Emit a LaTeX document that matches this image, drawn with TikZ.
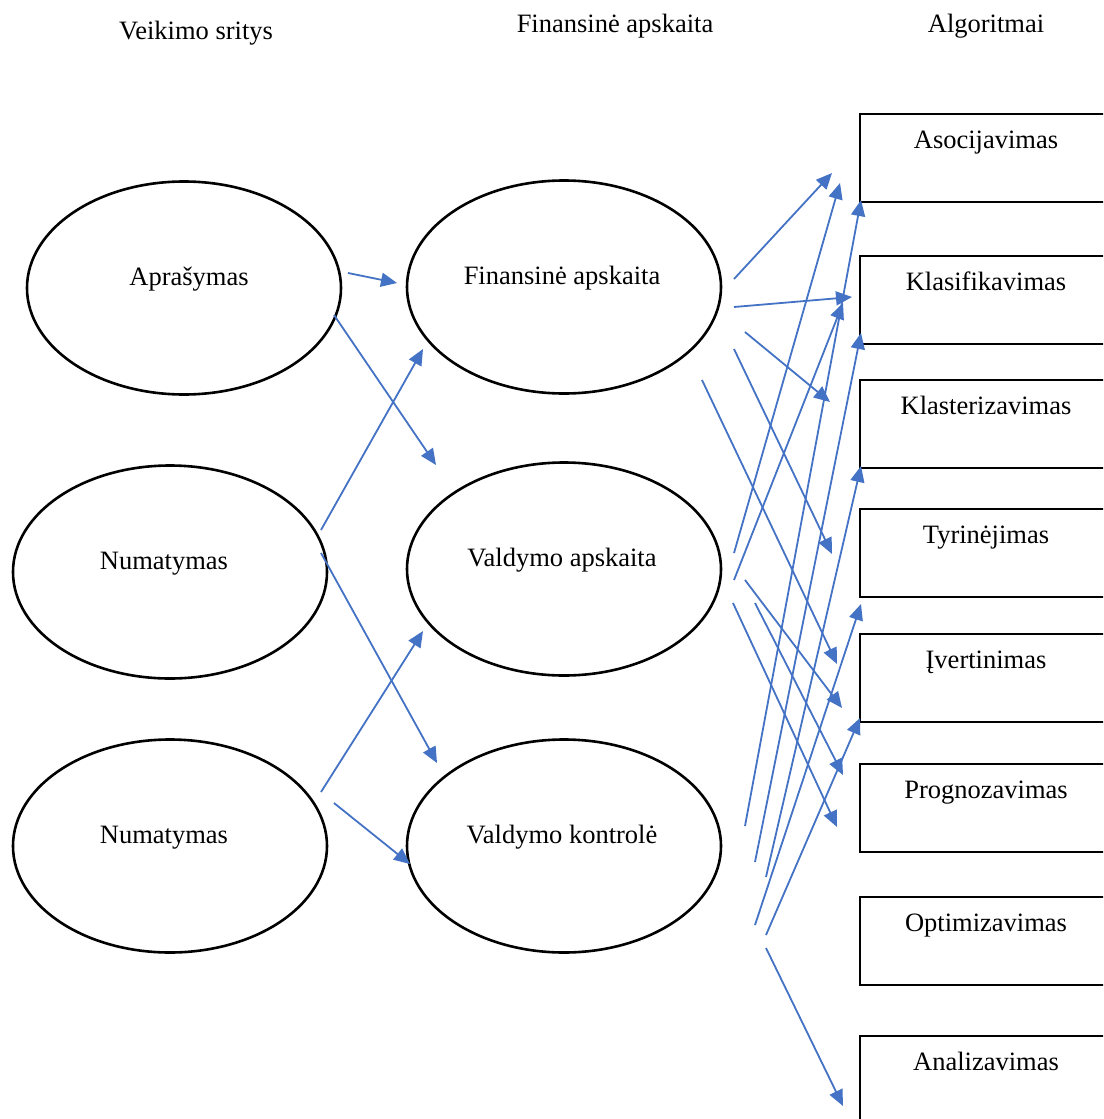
\documentclass[tikz,border=0pt]{standalone}
\usepackage{fontspec}
\setmainfont{Liberation Serif}
\usetikzlibrary{shapes.geometric,arrows.meta}
\definecolor{arrblue}{HTML}{4472C4}
\tikzset{
  txt/.style={font=\fontsize{26.5pt}{30pt}\selectfont, inner sep=0pt},
  oval/.style={ellipse, draw=black, line width=2.6pt, inner sep=0pt,
    minimum width=314pt, minimum height=213pt, text height=10pt, text depth=16pt,
    font=\fontsize{26.5pt}{30pt}\selectfont},
  algbox/.style={rectangle, draw=black, line width=2.2pt, inner sep=0pt,
    minimum width=270pt, minimum height=88pt, anchor=north west},
  arr/.style={draw=arrblue, line width=1.8pt, -{Triangle[length=16pt,width=14pt]}, arrblue}
}
\begin{document}
\begin{tikzpicture}[x=1pt,y=-1pt]
\useasboundingbox (0,0) rectangle (1103,1119);
\clip (0,0) rectangle (1103,1119);
\fill[white] (0,0) rectangle (1103,1119);

% headers
\node[txt, anchor=base] (h1) at (196,39) {Veikimo sritys};
\node[txt, anchor=base] (h2) at (615,32) {Finansinė apskaita};
\node[txt, anchor=base] (h3) at (986,32) {Algoritmai};

% ellipses
\node[oval] (apr) at (184,288) {\hspace*{10pt}Aprašymas};
\node[oval] (num1) at (170,572) {Numatymas\hspace*{12pt}};
\node[oval] (num2) at (170,846) {Numatymas\hspace*{12pt}};
\node[oval] (fin) at (564,287) {Finansinė apskaita\hspace*{4pt}};
\node[oval] (vap) at (564,569) {Valdymo apskaita\hspace*{4pt}};
\node[oval] (vko) at (564,846) {Valdymo kontrolė\hspace*{4pt}};

% algorithm boxes
\foreach \nm/\top/\lab in {asoc/113/Asocijavimas, klas/255/Klasifikavimas,
  klst/379/Klasterizavimas, tyr/508/Tyrinėjimas, ivert/633/Įvertinimas,
  prog/763/Prognozavimas, opt/896/Optimizavimas, anal/1035/Analizavimas}{
  \node[algbox] (\nm) at (859,\top) {};
  \node[txt, anchor=base] (\nm-t) at (986,\top+35) {\lab};
}

% arrow end points
\foreach \nm/\xa/\ya/\xb/\yb in {
  a1/348/273/397/283, a2/334/315/436/465, a3/321/530/423/349,
  a4/321/553/437/763, a5/321/792/423/631, a6/334/803/410/864,
  b1/734/279/832/173, b2/734/307/852/297, b3/745/332/830/402,
  b4/734/349/832/554, b5/702/380/837/664,
  c1/734/553/840/183, c2/734/580/843/303, c3/745/580/842/708,
  c4/755/603/843/775, c5/733/603/837/827,
  d1/745/826/861/200, d2/755/862/861/333, d3/766/877/861/466,
  d4/755/925/861/604, d5/766/935/860/718, d6/766/948/843/1106}{
  \coordinate (\nm s) at (\xa,\ya);
  \coordinate (\nm e) at (\xb,\yb);
  \draw[arr] (\nm s) -- (\nm e);
}
\end{tikzpicture}
\end{document}
